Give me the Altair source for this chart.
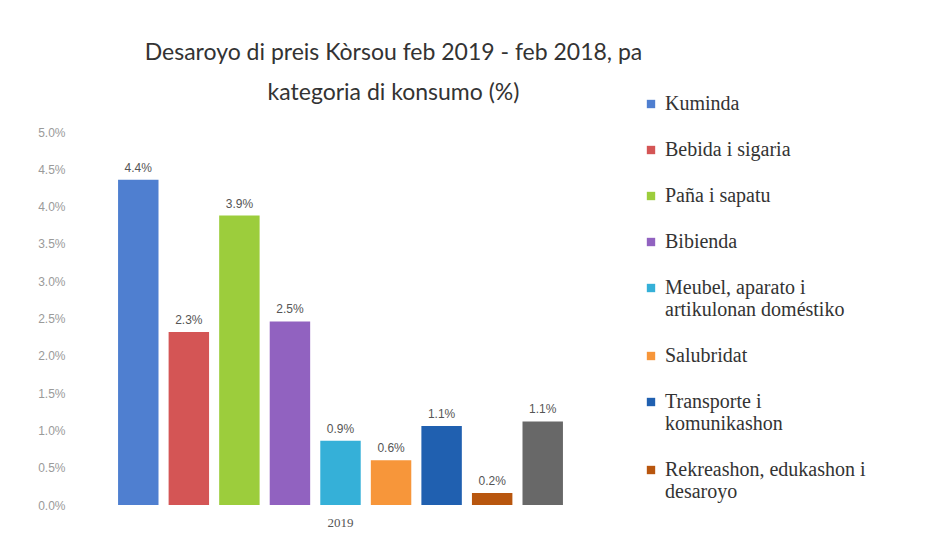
import altair as alt
import pandas as pd

categories = [
    "Kuminda",
    "Bebida i sigaria",
    "Paña i sapatu",
    "Bibienda",
    "Meubel, aparato i|artikulonan doméstiko",
    "Salubridat",
    "Transporte i|komunikashon",
    "Rekreashon, edukashon i|desaroyo",
    "Diferente",
]
values = [4.36, 2.32, 3.88, 2.46, 0.86, 0.60, 1.06, 0.16, 1.12]
colors = ["#4f7fd0", "#d45555", "#9ccd3c", "#9162c0", "#35b0d8",
          "#f7963a", "#2060b0", "#b8560e", "#686868"]
year = "2019"
tick_values = [0.0, 0.005, 0.01, 0.015, 0.02, 0.025, 0.03, 0.035, 0.04, 0.045, 0.05]

df = pd.DataFrame({
    "year": [year] * len(categories),
    "cat": categories,
    "val": [v / 100 for v in values],
})

base = alt.Chart(df).encode(
    x=alt.X("year:N", title=None,
            scale=alt.Scale(paddingInner=0, paddingOuter=0),
            axis=alt.Axis(labelAngle=0, domain=False, ticks=False,
                          labelFont="Liberation Serif", labelFontSize=13,
                          labelColor="#555555", labelPadding=11)),
    xOffset=alt.XOffset("cat:N", sort=categories,
                        scale=alt.Scale(paddingInner=0.2, paddingOuter=0.1)),
    y=alt.Y("val:Q", title=None,
            scale=alt.Scale(domain=[0, 0.05]),
            axis=alt.Axis(values=tick_values, format=".1%",
                          domain=False, ticks=False, grid=False,
                          labelOverlap=False,
                          labelFont="Liberation Sans", labelFontSize=12,
                          labelColor="#9a9a9a", labelPadding=48)),
)

bars = base.mark_bar().encode(
    color=alt.Color("cat:N", sort=categories,
                    scale=alt.Scale(domain=categories, range=colors),
                    legend=alt.Legend(
                        title=None, orient="none", legendX=528, legendY=-38,
                        values=categories[:8],
                        symbolType="square", symbolSize=70, symbolStrokeWidth=0,
                        labelFont="Liberation Serif", labelFontSize=20,
                        labelColor="#333333", labelLimit=400,
                        labelExpr="split(datum.label, '|')",
                        rowPadding=26, labelOffset=4)),
)

labels = base.mark_text(dy=-12, font="Liberation Sans", fontSize=12,
                        color="#555555").encode(
    text=alt.Text("val:Q", format=".1%"),
)

chart = alt.layer(bars, labels).properties(
    width=455, height=373,
    padding={"left": 29, "top": 34, "right": 5, "bottom": 5},
    title=alt.Title(
        ["Desaroyo di preis Kòrsou feb 2019 - feb 2018, pa",
         "kategoria di konsumo (%)"],
        font="Lato", fontSize=23, fontWeight="normal", color="#333333",
        anchor="middle", dx=53, lineHeight=40, offset=-11),
).configure_view(stroke=None)

chart.save("out.html", embed_options={"renderer": "svg", "actions": False})
